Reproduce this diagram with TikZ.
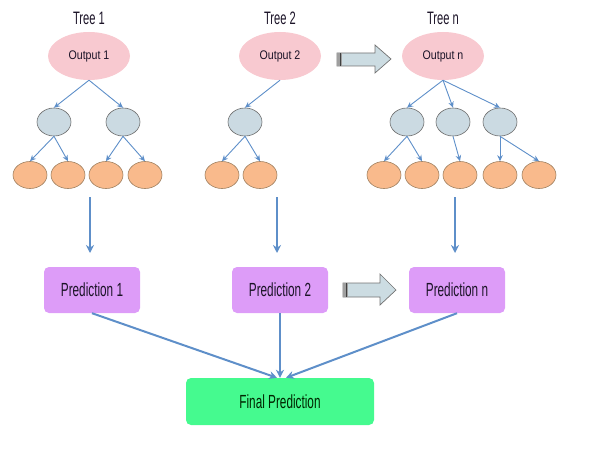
\documentclass[tikz,border=0pt]{standalone}
\usepackage{fontspec}
\setmainfont{Liberation Sans}[FakeStretch=0.62]
\newfontfamily\outfont{Liberation Sans}[FakeStretch=0.85]
\usetikzlibrary{shapes.geometric,arrows.meta}
\definecolor{pinkc}{HTML}{F8C9D0}
\definecolor{grayc}{HTML}{CBDAE2}
\definecolor{orangec}{HTML}{F9BA8C}
\definecolor{violetc}{HTML}{DD9CF8}
\definecolor{greenc}{HTML}{45FA8F}
\definecolor{arrc}{HTML}{5E8FC9}
\definecolor{bigc}{HTML}{CCDCE2}
\definecolor{txt}{HTML}{1C1428}
\begin{document}
\begin{tikzpicture}[x=1pt,y=-1pt,
  title/.style={font=\fontsize{18}{20}\selectfont, text=txt},
  outp/.style={ellipse, fill=pinkc, minimum width=82pt, minimum height=48pt, inner sep=0pt, font=\outfont\fontsize{12.5}{14}\selectfont, text=txt},
  gnode/.style={ellipse, fill=grayc, draw=gray!85!black, line width=0.6pt, minimum width=34pt, minimum height=28pt, inner sep=0pt},
  onode/.style={ellipse, fill=orangec, draw=brown!50!gray, line width=0.6pt, minimum width=34pt, minimum height=27pt, inner sep=0pt},
  predbox/.style={rectangle, rounded corners=5pt, fill=violetc, minimum width=96pt, minimum height=46pt, inner sep=0pt, font=\fontsize{19}{21}\selectfont, text=txt},
  finalbox/.style={rectangle, rounded corners=5pt, fill=greenc, minimum width=188pt, minimum height=47pt, inner sep=0pt, font=\fontsize{19}{21}\selectfont, text=black!85!green},
  tarr/.style={draw=arrc, line width=0.9pt, -{Stealth[length=6pt,width=5.5pt]}},
  varr/.style={draw=arrc, line width=2.4pt, -{Stealth[length=8pt,width=8pt]}},
  parr/.style={draw=arrc, line width=2pt, -{Stealth[length=8pt,width=8pt]}},
  bigarr/.style={fill=bigc, draw=gray!90!black, line width=0.7pt, line join=miter}
]
\useasboundingbox (0,0) rectangle (592,460);

% Tree 1
\node[title] (t1) at (89,18) {Tree 1};
\node[outp] (o1) at (89,56) {Output 1};
\node[gnode] (g11) at (54,122) {};
\node[gnode] (g12) at (123,122) {};
\node[onode] (l11) at (30,175) {};
\node[onode] (l12) at (68,175) {};
\node[onode] (l13) at (106,175) {};
\node[onode] (l14) at (145,175) {};
\draw[tarr] (o1.south) -- (g11.north);
\draw[tarr] (o1.south) -- (g12.north);
\draw[tarr] (g11.south) -- (l11.north);
\draw[tarr] (g11.south) -- (l12.north);
\draw[tarr] (g12.south) -- (l13.north);
\draw[tarr] (g12.south) -- (l14.north);

% Tree 2
\node[title] (t2) at (280,18) {Tree 2};
\node[outp] (o2) at (280,56) {Output 2};
\node[gnode] (g21) at (245,122) {};
\node[onode] (l21) at (222,175) {};
\node[onode] (l22) at (260,175) {};
\draw[tarr] (o2.south) -- (g21.north);
\draw[tarr] (g21.south) -- (l21.north);
\draw[tarr] (g21.south) -- (l22.north);

% Tree n
\node[title] (tn) at (443,18) {Tree n};
\node[outp] (on) at (443,56) {Output n};
\node[gnode] (gn1) at (407,122) {};
\node[gnode] (gn2) at (453,122) {};
\node[gnode] (gn3) at (500,122) {};
\node[onode] (ln1) at (384,175) {};
\node[onode] (ln2) at (422,175) {};
\node[onode] (ln3) at (460,175) {};
\node[onode] (ln4) at (500,175) {};
\node[onode] (ln5) at (539,175) {};
\draw[tarr] (on.south) -- (gn1.north);
\draw[tarr] (on.south) -- (gn2.north);
\draw[tarr] (on.south) -- (gn3.north);
\draw[tarr] (gn1.south) -- (ln1.north);
\draw[tarr] (gn1.south) -- (ln2.north);
\draw[tarr] (gn2.south) -- (ln3.north);
\draw[tarr] (gn3.south) -- (ln4.north);
\draw[tarr] (gn3.south) -- (ln5.north);

% big arrow (top)
\filldraw[bigarr] (337,53) -- (375,53) -- (375,45) -- (391,59) -- (375,73) -- (375,66) -- (337,66) -- cycle;
\fill[gray!75] (337.4,53.4) rectangle (342,65.6);
\draw[gray!50!black, line width=0.5pt] (340,53.4) -- (340,65.6);

% Predictions
\node[predbox] (p1) at (92,290) {Prediction 1};
\node[predbox] (p2) at (280,290) {Prediction 2};
\node[predbox] (pn) at (457,290) {Prediction n};
\node[finalbox] (f) at (280,401.5) {Final Prediction};

% vertical arrows
\coordinate (v1a) at (90,197);
\coordinate (v1b) at (90,253);
\coordinate (v2a) at (277,197);
\coordinate (v2b) at (277,253);
\coordinate (vna) at (455,197);
\coordinate (vnb) at (455,253);
\draw[varr] (v1a) -- (v1b);
\draw[varr] (v2a) -- (v2b);
\draw[varr] (vna) -- (vnb);

% big arrow (bottom)
\filldraw[bigarr] (343,283) -- (380,283) -- (380,274) -- (396,290) -- (380,305) -- (380,297) -- (343,297) -- cycle;
\fill[gray!75] (343.4,283.4) rectangle (348,296.6);
\draw[gray!50!black, line width=0.5pt] (346,283.4) -- (346,296.6);

% to final
\draw[parr] (p1.south) -- ([xshift=-3pt]f.north);
\draw[parr] (p2.south) -- (f.north);
\draw[parr] (pn.south) -- ([xshift=6pt]f.north);
\end{tikzpicture}
\end{document}
